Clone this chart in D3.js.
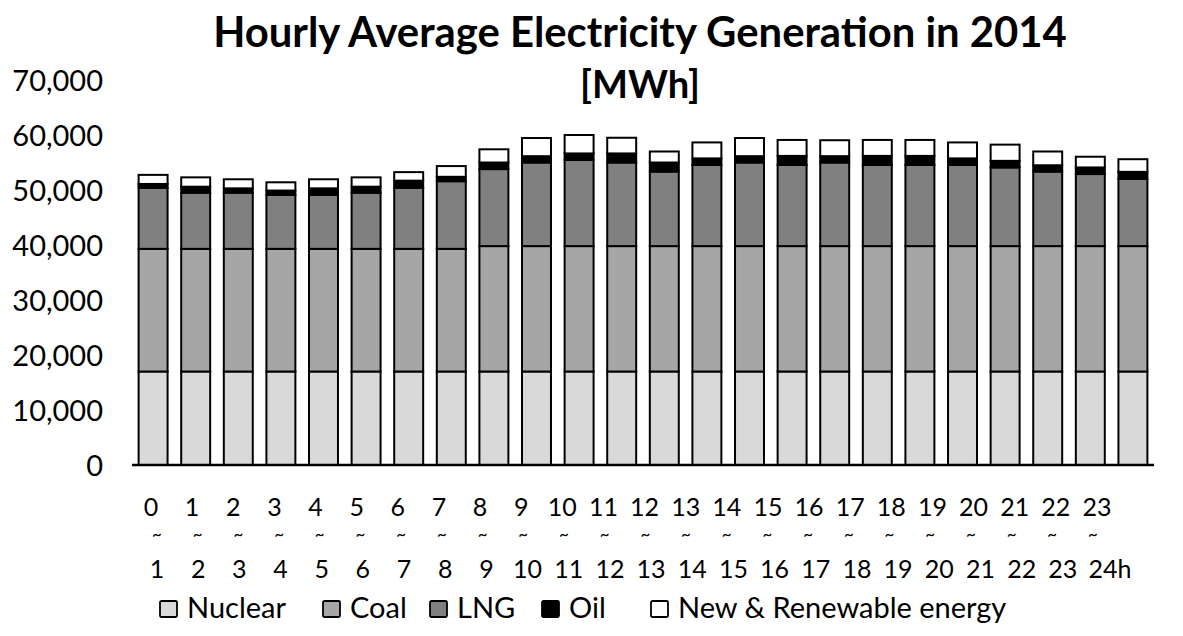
<!DOCTYPE html>
<html><head><meta charset="utf-8">
<script src="https://cdn.jsdelivr.net/npm/d3@7"></script>
<style>
body{margin:0;background:#fff}
svg{display:block}
text{font-family:Lato,"Open Sans",sans-serif;fill:#000}
</style>
</head><body>
<svg id="chart" width="1183" height="636"></svg>
<script>
// ---- data ----
const hourStart = ["0","1","2","3","4","5","6","7","8","9","10","11","12","13","14","15","16","17","18","19","20","21","22","23"];
const hourEnd   = ["1","2","3","4","5","6","7","8","9","10","11","12","13","14","15","16","17","18","19","20","21","22","23","24h"];
const nuclear   = [17000,17000,17000,17000,17000,17000,17000,17000,17000,17000,17000,17000,17000,17000,17000,17000,17000,17000,17000,17000,17000,17000,17000,17000];
const coal      = [22300,22300,22300,22300,22300,22300,22300,22300,22800,22800,22800,22800,22800,22800,22800,22800,22800,22800,22800,22800,22800,22800,22800,22800];
const lng       = [11100,10200,10200,9800,9800,10200,11100,12300,14000,15200,15650,15200,13550,14750,15200,14750,15200,14750,14750,14750,14300,13550,13100,12200];
const oil       = [700,1100,800,800,1200,1100,1300,800,1200,1150,1200,1650,1650,1200,1150,1650,1150,1650,1650,1200,1200,1150,1200,1300];
const renewable = [1650,1700,1650,1500,1650,1700,1550,1950,2400,3300,3350,2850,2000,2900,3300,2900,2900,2900,2900,2900,2950,2500,1950,2300];
const seriesNames  = ["Nuclear","Coal","LNG","Oil","New & Renewable energy"];
const seriesColors = ["#d9d9d9","#a6a6a6","#808080","#000000","#ffffff"];
const yTicks = [0,10000,20000,30000,40000,50000,60000,70000];
const titleText = "Hourly Average Electricity Generation in 2014";
const unitText = "[MWh]";

// ---- build table ----
const seriesValues = [nuclear, coal, lng, oil, renewable];
const rows = hourStart.map((h,i)=>{
  const r = {hour:h};
  seriesNames.forEach((n,k)=>r[n]=seriesValues[k][i]);
  return r;
});
const stacked = d3.stack().keys(seriesNames)(rows);

const svg = d3.select("#chart");
const x = d3.scaleBand().domain(hourStart).range([132,1154]).paddingInner(0.32).paddingOuter(0.155);
const y = d3.scaleLinear().domain([0,70000]).range([465,80]);
const color = d3.scaleOrdinal().domain(seriesNames).range(seriesColors);

function fitWidth(sel, target){
  const node = sel.node();
  const fs = parseFloat(sel.attr("font-size"));
  const w = node.getComputedTextLength();
  if (w>0) sel.attr("font-size", (fs*target/w).toFixed(2));
}

// title
const t1 = svg.append("text").attr("x",640).attr("y",47).attr("text-anchor","middle")
  .attr("font-weight","bold").attr("font-size",38).text(titleText);
fitWidth(t1, 854);
const t2 = svg.append("text").attr("x",640).attr("y",98).attr("text-anchor","middle")
  .attr("font-weight","bold").attr("font-size",30).text(unitText);
fitWidth(t2, 120);

// y axis labels
const yAxis = d3.axisLeft(y).tickValues(yTicks).tickSize(0).tickPadding(0).tickFormat(d3.format(","));
const gy = svg.append("g").attr("transform","translate(103,0)").call(yAxis);
gy.select(".domain").remove();
gy.selectAll("text").attr("font-size",29).attr("font-family","Lato, 'Open Sans', sans-serif").attr("fill","#000").attr("dy","0.36em");

// bars
svg.append("g").selectAll("g").data(stacked).join("g")
  .attr("fill", d=>color(d.key))
  .selectAll("rect").data(d=>d).join("rect")
  .attr("x", d=>x(d.data.hour))
  .attr("width", x.bandwidth())
  .attr("y", d=>y(d[1]))
  .attr("height", d=>y(d[0])-y(d[1]))
  .attr("stroke","#000").attr("stroke-width",2);

// baseline
svg.append("line").attr("x1",132).attr("x2",1154).attr("y1",y(0)).attr("y2",y(0))
  .attr("stroke","#000").attr("stroke-width",2.5);

// x labels (three text rows, as in the original)
const xTop = d3.scalePoint().domain(hourStart).range([151,1097]);
const xTilde = d3.scalePoint().domain(hourStart).range([157,1093]);
const xBot = d3.scalePoint().domain(hourStart).range([157,1104]);
const gx = svg.append("g");
gx.selectAll("text.top").data(hourStart).join("text").attr("class","top")
  .attr("x",d=>xTop(d)).attr("y",516).attr("text-anchor","middle").attr("font-size",25).text(d=>d);
gx.selectAll("text.tl").data(hourStart).join("text").attr("class","tl")
  .attr("x",d=>xTilde(d)).attr("y",540).attr("text-anchor","middle").attr("font-size",17)
  .attr("font-family","'DejaVu Sans', sans-serif").text("~");
gx.selectAll("text.bot").data(hourStart).join("text").attr("class","bot")
  .attr("x",(d,i)=>xBot(d) + (i===23?6:0)).attr("y",578).attr("text-anchor","middle").attr("font-size",25)
  .text((d,i)=>hourEnd[i]);

// legend
const legendX = [160,323,430,542,651];
const lg = svg.append("g").selectAll("g").data(seriesNames).join("g")
  .attr("transform",(d,i)=>`translate(${legendX[i]},601)`);
lg.append("rect").attr("width",17).attr("height",16).attr("rx",1.5)
  .attr("fill",d=>color(d)).attr("stroke","#000").attr("stroke-width",1.8);
lg.append("text").attr("x",27).attr("y",17).attr("font-size",29).text(d=>d);
</script>
</body></html>
